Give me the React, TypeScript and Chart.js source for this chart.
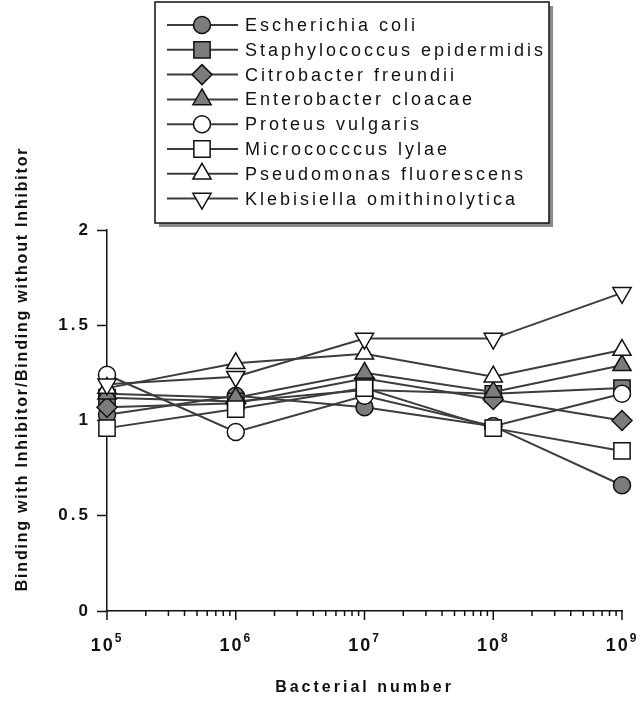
import React, { useEffect, useRef } from 'react';
import { Chart, registerables } from 'chart.js';
import { drawPoint } from 'chart.js/helpers';

Chart.register(...registerables);

// ---- data ----
const bacterialNumbers = [1e5, 1e6, 1e7, 1e8, 1e9];
const xTickExponents = [5, 6, 7, 8, 9];
const yTickValues = [0, 0.5, 1, 1.5, 2];
const yTickLabels = ['0', '0.5', '1', '1.5', '2'];

const seriesNames = [
  'Escherichia coli',
  'Staphylococcus epidermidis',
  'Citrobacter freundii',
  'Enterobacter cloacae',
  'Proteus vulgaris',
  'Micrococccus lylae',
  'Pseudomonas fluorescens',
  'Klebisiella omithinolytica',
];

const escherichiaColi = [1.03, 1.13, 1.07, 0.97, 0.66];
const staphylococcusEpidermidis = [1.12, 1.10, 1.16, 1.14, 1.17];
const citrobacterFreundii = [1.07, 1.09, 1.22, 1.11, 1.0];
const enterobacterCloacae = [1.14, 1.12, 1.25, 1.15, 1.29];
const proteusVulgaris = [1.24, 0.94, 1.13, 0.97, 1.14];
const micrococcusLylae = [0.96, 1.06, 1.17, 0.96, 0.84];
const pseudomonasFluorescens = [1.17, 1.3, 1.35, 1.23, 1.37];
const klebsiellaOmithinolytica = [1.19, 1.23, 1.43, 1.43, 1.67];

const seriesValues = [
  escherichiaColi,
  staphylococcusEpidermidis,
  citrobacterFreundii,
  enterobacterCloacae,
  proteusVulgaris,
  micrococcusLylae,
  pseudomonasFluorescens,
  klebsiellaOmithinolytica,
];

// ---- styles ----
const FONT = '"Liberation Sans", Arial, Helvetica, sans-serif';
const FILL_GRAY = '#7c7c7c';
const LINE_COLOR = '#3c3c3c';
const markerStyles = [
  { style: 'circle', radius: 8.5, fill: FILL_GRAY, rot: 0 },
  { style: 'rect', radius: 11.5, fill: FILL_GRAY, rot: 0 },
  { style: 'rectRot', radius: 10, fill: FILL_GRAY, rot: 0 },
  { style: 'triangle', radius: 10.5, fill: FILL_GRAY, rot: 0 },
  { style: 'circle', radius: 8.5, fill: '#ffffff', rot: 0 },
  { style: 'rect', radius: 11.5, fill: '#ffffff', rot: 0 },
  { style: 'triangle', radius: 10.5, fill: '#ffffff', rot: 0 },
  { style: 'triangle', radius: 10.5, fill: '#ffffff', rot: 180 },
];

const LEGEND = { left: 155, top: 2, right: 549, bottom: 223, shadow: 4, firstRow: 25, rowGap: 24.8, lineX0: 167, lineX1: 238, markerX: 202, textX: 245 };
const Y_TITLE = { x: 27, y: 369 };

const decorPlugin = {
  id: 'decor',
  beforeDraw(chart: any) {
    const ctx = chart.ctx;
    ctx.save();
    ctx.fillStyle = '#ffffff';
    ctx.fillRect(0, 0, chart.width, chart.height);
    ctx.restore();
    ctx.letterSpacing = '3px';
  },
  afterDraw(chart: any) {
    const ctx: CanvasRenderingContext2D = chart.ctx;
    const xs = chart.scales.x;
    const bottom = chart.chartArea.bottom;

    // x axis ticks (minor + major)
    ctx.save();
    ctx.strokeStyle = '#111';
    ctx.lineWidth = 1.5;
    for (let i = 0; i < xTickExponents.length; i++) {
      const e = xTickExponents[i];
      const major = Math.pow(10, e);
      const px = xs.getPixelForValue(major);
      ctx.beginPath();
      ctx.moveTo(px, bottom);
      ctx.lineTo(px, bottom + 9);
      ctx.stroke();
      if (i < xTickExponents.length - 1) {
        for (let m = 2; m <= 9; m++) {
          const p = xs.getPixelForValue(m * major);
          ctx.beginPath();
          ctx.moveTo(p, bottom);
          ctx.lineTo(p, bottom + 5);
          ctx.stroke();
        }
      }
    }
    // x tick labels 10^n
    ctx.fillStyle = '#111';
    ctx.textBaseline = 'alphabetic';
    ctx.textAlign = 'left';
    for (const e of xTickExponents) {
      const px = xs.getPixelForValue(Math.pow(10, e));
      ctx.letterSpacing = '2px';
      ctx.font = `bold 18px ${FONT}`;
      const w1 = ctx.measureText('10').width;
      ctx.font = `bold 12px ${FONT}`;
      const w2 = ctx.measureText(String(e)).width;
      const x0 = px - (w1 + w2) / 2;
      ctx.font = `bold 18px ${FONT}`;
      ctx.fillText('10', x0, bottom + 40);
      ctx.font = `bold 12px ${FONT}`;
      ctx.fillText(String(e), x0 + w1, bottom + 31);
    }
    ctx.restore();

    // y axis title
    ctx.save();
    ctx.translate(Y_TITLE.x, Y_TITLE.y);
    ctx.rotate(-Math.PI / 2);
    ctx.font = `bold 16px ${FONT}`;
    ctx.letterSpacing = '1.8px';
    ctx.fillStyle = '#111';
    ctx.textAlign = 'center';
    ctx.textBaseline = 'alphabetic';
    ctx.fillText('Binding with Inhibitor/Binding without Inhibitor', 0, 0);
    ctx.restore();

    // legend box
    ctx.save();
    const L = LEGEND;
    ctx.fillStyle = '#8a8a8a';
    ctx.fillRect(L.left + L.shadow, L.top + L.shadow, L.right - L.left, L.bottom - L.top);
    ctx.fillStyle = '#ffffff';
    ctx.fillRect(L.left, L.top, L.right - L.left, L.bottom - L.top);
    ctx.strokeStyle = '#111';
    ctx.lineWidth = 1.5;
    ctx.strokeRect(L.left, L.top, L.right - L.left, L.bottom - L.top);
    chart.data.datasets.forEach((ds: any, i: number) => {
      const y = L.firstRow + i * L.rowGap;
      ctx.strokeStyle = LINE_COLOR;
      ctx.lineWidth = 2;
      ctx.beginPath();
      ctx.moveTo(L.lineX0, y);
      ctx.lineTo(L.lineX1, y);
      ctx.stroke();
      ctx.fillStyle = ds.pointBackgroundColor;
      ctx.strokeStyle = ds.pointBorderColor;
      ctx.lineWidth = ds.pointBorderWidth;
      drawPoint(ctx, { pointStyle: ds.pointStyle, radius: ds.pointRadius, rotation: ds.pointRotation, borderWidth: ds.pointBorderWidth } as any, L.markerX, y);
      ctx.fillStyle = '#111';
      ctx.font = `18px ${FONT}`;
      ctx.letterSpacing = '3px';
      ctx.textAlign = 'left';
      ctx.textBaseline = 'middle';
      ctx.fillText(ds.label, L.textX, y + 1);
    });
    ctx.restore();
  },
};

export default function App() {
  const canvasRef = useRef<HTMLCanvasElement | null>(null);

  useEffect(() => {
    document.body.style.margin = '0';
    const canvas = canvasRef.current;
    if (!canvas) return;

    const datasets = seriesNames.map((name, i) => ({
      label: name,
      data: bacterialNumbers.map((x, j) => ({ x, y: seriesValues[i][j] })),
      borderColor: LINE_COLOR,
      borderWidth: 2,
      pointStyle: markerStyles[i].style,
      pointRadius: markerStyles[i].radius,
      pointRotation: markerStyles[i].rot,
      pointBackgroundColor: markerStyles[i].fill,
      pointBorderColor: '#111111',
      pointBorderWidth: 1.5,
      fill: false,
      tension: 0,
      clip: false,
      order: seriesNames.length - 1 - i,
    }));

    const chart = new Chart(canvas, {
      type: 'line',
      data: { datasets },
      plugins: [decorPlugin],
      options: {
        responsive: false,
        animation: false,
        devicePixelRatio: 1,
        layout: { padding: { top: 230, right: 22, left: 0, bottom: 0 } },
        plugins: { legend: { display: false }, tooltip: { enabled: false } },
        scales: {
          x: {
            type: 'logarithmic',
            min: 1e5,
            max: 1e9,
            ticks: { display: false },
            grid: { display: false },
            border: { display: true, color: '#111', width: 1.5 },
            title: {
              display: true,
              text: 'Bacterial number',
              color: '#111',
              font: { family: FONT, size: 16, weight: 'bold' },
              padding: { top: 0, bottom: 7 },
            },
            afterFit: (s: any) => { s.height = 93; },
          },
          y: {
            min: 0,
            max: 2,
            afterBuildTicks: (s: any) => { s.ticks = yTickValues.map((v) => ({ value: v })); },
            ticks: {
              color: '#111',
              font: { family: FONT, size: 17, weight: 'bold' },
              padding: 6,
              callback: (v: any) => {
                const k = yTickValues.indexOf(Number(v));
                return k >= 0 ? yTickLabels[k] : '';
              },
            },
            grid: { drawOnChartArea: false, drawTicks: true, tickLength: 10, tickColor: '#111', tickWidth: 1.5 },
            border: { display: true, color: '#111', width: 1.5 },
            afterFit: (s: any) => { s.width = 107; },
          },
        },
      } as any,
    });

    return () => chart.destroy();
  }, []);

  return <canvas ref={canvasRef} width={644} height={704} style={{ display: 'block' }} />;
}
